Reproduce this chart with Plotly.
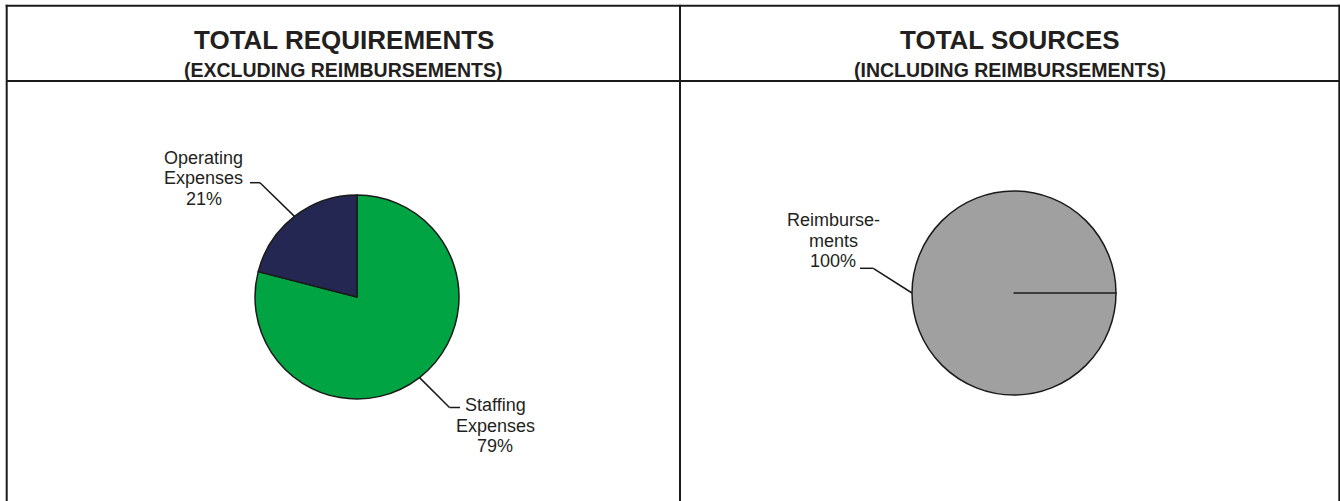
import math
import plotly.graph_objects as go

# ---------------- data ----------------
req_labels = ["Staffing Expenses", "Operating Expenses"]
req_values = [79, 21]
req_display = [["Staffing", "Expenses"], ["Operating", "Expenses"]]
req_colors = ["#00A443", "#232752"]

src_labels = ["Reimbursements", "Other Sources"]
src_values = [100, 0]
src_display = [["Reimburse-", "ments"], None]
src_colors = ["#A0A0A0", "#A0A0A0"]

titles = ["TOTAL REQUIREMENTS", "TOTAL SOURCES"]
subtitles = ["(EXCLUDING REIMBURSEMENTS)", "(INCLUDING REIMBURSEMENTS)"]

# ---------------- layout constants (pixels) ----------------
W, H = 1340, 501
LINE = "#1a1a1a"
TXT = "#231f20"
FONT = "Liberation Sans, Arial, sans-serif"

def px(x):
    return x / W

def py(y):
    return 1 - y / H

# pie geometry: center, radius, rotation
pies = [
    dict(cx=357, cy=297, r=102, rot=0),
    dict(cx=1014, cy=293, r=102, rot=90),
]
# label placement: elbow point, tail end x, text center x, first baseline
label_pos = [
    [dict(ex=449.5, ey=407.5, tx=460, cx=495.5, b0=411.7),
     dict(ex=260, ey=182.7, tx=250, cx=203.7, b0=164.0)],
    [dict(ex=873.3, ey=268.3, tx=860, cx=833, b0=226.7), None],
]
PITCH = 20.4
LBL_SIZE = 18

fig = go.Figure()
shapes = []
annotations = []

datasets = [
    (req_labels, req_values, req_display, req_colors),
    (src_labels, src_values, src_display, src_colors),
]

for k, (labels, values, display, colors) in enumerate(datasets):
    g = pies[k]
    fig.add_trace(go.Pie(
        labels=labels, values=values, sort=False, direction="clockwise",
        rotation=g["rot"], textinfo="none", hoverinfo="label+percent",
        marker=dict(colors=colors, line=dict(color=LINE, width=1.5)),
        domain=dict(x=[px(g["cx"] - g["r"]), px(g["cx"] + g["r"])],
                    y=[py(g["cy"] + g["r"]), py(g["cy"] - g["r"])]),
        showlegend=False,
    ))
    total = sum(values)
    cum = 0
    for i, v in enumerate(values):
        mid = (cum + v / 2) / total
        cum += v
        pos = label_pos[k][i]
        if pos is None or display[i] is None:
            continue
        theta = math.radians(g["rot"] + 360 * mid)
        sx = g["cx"] + g["r"] * math.sin(theta)
        sy = g["cy"] - g["r"] * math.cos(theta)
        shapes.append(dict(type="line", xref="paper", yref="paper",
                           x0=px(sx), y0=py(sy), x1=px(pos["ex"]), y1=py(pos["ey"]),
                           line=dict(color=LINE, width=1.5)))
        shapes.append(dict(type="line", xref="paper", yref="paper",
                           x0=px(pos["ex"]), y0=py(pos["ey"]), x1=px(pos["tx"]), y1=py(pos["ey"]),
                           line=dict(color=LINE, width=1.5)))
        pct = round(100 * v / total)
        lines = display[i] + [f"{pct}%"]
        for j, t in enumerate(lines):
            base = pos["b0"] + j * PITCH
            annotations.append(dict(
                text=t, xref="paper", yref="paper", x=px(pos["cx"]),
                y=py(base - 0.3465 * LBL_SIZE), xanchor="center", yanchor="middle",
                showarrow=False, font=dict(family=FONT, size=LBL_SIZE, color=TXT)))

# titles
panel_centers = [343.5, 1010]
for k in range(2):
    annotations.append(dict(
        text=f"<b>{titles[k]}</b>", xref="paper", yref="paper",
        x=px(panel_centers[k]), y=py(49.3 - 0.3465 * 26), xanchor="center", yanchor="middle",
        showarrow=False, font=dict(family=FONT, size=26, color=TXT)))
    annotations.append(dict(
        text=f"<b>{subtitles[k]}</b>", xref="paper", yref="paper",
        x=px(panel_centers[k]), y=py(76.5 - 0.3465 * 19.5), xanchor="center", yanchor="middle",
        showarrow=False, font=dict(family=FONT, size=19.5, color=TXT)))

# frame lines
def hline(y, x0, x1):
    shapes.append(dict(type="line", xref="paper", yref="paper", x0=px(x0), x1=px(x1),
                       y0=py(y), y1=py(y), line=dict(color=LINE, width=2)))

def vline(x, y0, y1):
    shapes.append(dict(type="line", xref="paper", yref="paper", x0=px(x), x1=px(x),
                       y0=py(y0), y1=py(y1), line=dict(color=LINE, width=2)))

hline(5.7, 5.7, 1340)
hline(81, 6.7, 1340)
vline(6.7, 4.7, 501)
vline(680, 4.7, 501)
vline(1339.3, 4.7, 501)

fig.update_layout(
    width=W, height=H, autosize=False,
    margin=dict(l=0, r=0, t=0, b=0),
    paper_bgcolor="white", plot_bgcolor="white",
    shapes=shapes, annotations=annotations,
    font=dict(family=FONT, color=TXT),
)

fig.write_html(
    "out.html",
    config={"displayModeBar": False},
    post_script="document.body.style.margin='0';document.body.style.overflow='hidden';",
)
